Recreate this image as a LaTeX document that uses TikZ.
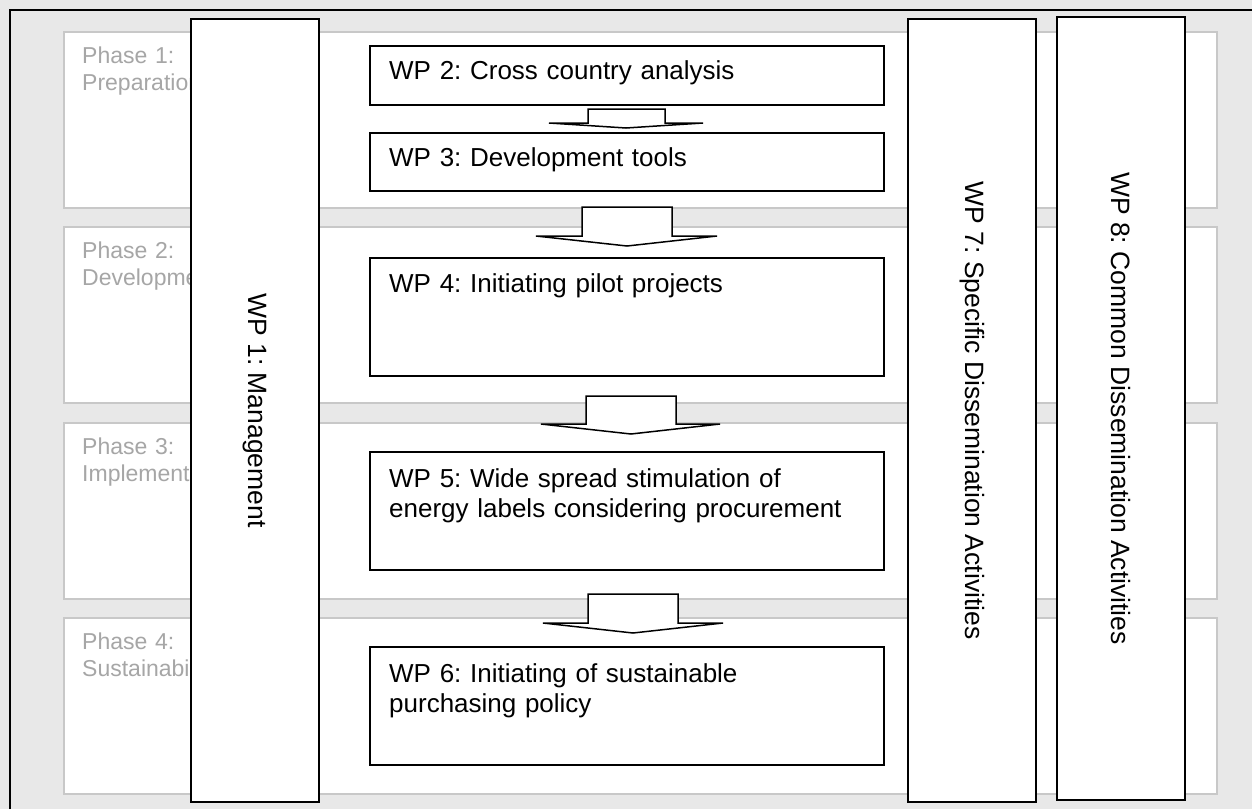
\documentclass[tikz,border=0pt]{standalone}
\usepackage{fontspec}
\setmainfont{Liberation Sans}
\frenchspacing
\definecolor{bggray}{RGB}{232,232,232}
\definecolor{phaseline}{RGB}{200,200,200}
\definecolor{phasefont}{RGB}{166,166,166}
\begin{document}
\begin{tikzpicture}[x=1pt, y=-1pt,
		phasebox/.style = {shape=rectangle, draw=phaseline, line width=1.5pt, fill=white,
			anchor=north west, minimum width=1153pt, minimum height=176pt, inner sep=0pt},
		phasetext/.style = {anchor=base west, text width=250pt, align=left, inner sep=0pt,
			text=phasefont, font=\fontsize{23}{27}\selectfont},
		wpbox/.style = {shape=rectangle, draw, line width=1.5pt, fill=white,
			anchor=north west, inner sep=0pt, minimum width=514pt},
		wptext/.style = {anchor=base west, text width=480pt, align=left, inner sep=0pt,
			font=\fontsize{26}{30}\selectfont},
		sidewp/.style = {shape=rectangle, draw, line width=1.5pt, fill=white, rotate=-90,
			minimum width=783pt, minimum height=128pt, inner sep=0pt,
			font=\fontsize{26.5}{30}\selectfont},
		blockarrow/.style = {draw, line width=1.5pt, fill=white, line join=miter}]
		\useasboundingbox (0,0) rectangle (1252,809);
		\fill[bggray] (0,0) rectangle (1252,809);
		\draw[line width=1.3pt] (10,809) -- (10,10) -- (1252,10);
		% phases
		\node[phasebox] (ph1) at (63,31) {};
		\node[phasebox] (ph2) at (63,226) {};
		\node[phasebox] (ph3) at (63,422) {};
		\node[phasebox] (ph4) at (63,617) {};
		\node[phasetext] (ph1text) at ([shift={(19,32)}]ph1.north west) {Phase 1:\\Preparation};
		\node[phasetext] (ph2text) at ([shift={(19,32)}]ph2.north west) {Phase 2:\\Development};
		\node[phasetext] (ph3text) at ([shift={(19,32)}]ph3.north west) {Phase 3:\\Implementation};
		\node[phasetext] (ph4text) at ([shift={(19,32)}]ph4.north west) {Phase 4:\\Sustainability};
		% work packages across all phases
		\node[sidewp] (wp1) at (255,410.5) {WP 1: Management};
		\node[sidewp] (wp7) at (972,410.5) {WP 7: Specific Dissemination Activities};
		\node[sidewp] (wp8) at (1121,408.5) {WP 8: Common Dissemination Activities};
		% work packages per phase
		\node[wpbox, minimum height=59pt] (wp2) at (369,45) {};
		\node[wpbox, minimum height=58pt] (wp3) at (369,132) {};
		\node[wpbox, minimum height=118pt] (wp4) at (369,257) {};
		\node[wpbox, minimum height=118pt] (wp5) at (369,451) {};
		\node[wpbox, minimum height=118pt] (wp6) at (369,646) {};
		\node[wptext] (wp2text) at ([shift={(20,34)}]wp2.north west) {WP 2: Cross country analysis};
		\node[wptext] (wp3text) at ([shift={(20,34)}]wp3.north west) {WP 3: Development tools};
		\node[wptext] (wp4text) at ([shift={(20,35)}]wp4.north west) {WP 4: Initiating pilot projects};
		\node[wptext] (wp5text) at ([shift={(20,36)}]wp5.north west) {WP 5: Wide spread stimulation of\\energy labels considering procurement};
		\node[wptext] (wp6text) at ([shift={(20,36)}]wp6.north west) {WP 6: Initiating of sustainable\\purchasing policy};
		% block arrows
		\draw[blockarrow] (588,109) -- (665,109) -- (665,123) -- (703,123) -- (626,128) -- (549,123) -- (588,123) -- cycle;
		\draw[blockarrow] (582,207) -- (672,207) -- (672,236) -- (717,236) -- (627,246) -- (536,236) -- (582,236) -- cycle;
		\draw[blockarrow] (586,396) -- (676,396) -- (676,424) -- (720,424) -- (631,434) -- (541,424) -- (586,424) -- cycle;
		\draw[blockarrow] (588,594) -- (678,594) -- (678,623) -- (723,623) -- (633,633) -- (543,623) -- (588,623) -- cycle;
\end{tikzpicture}
\end{document}
